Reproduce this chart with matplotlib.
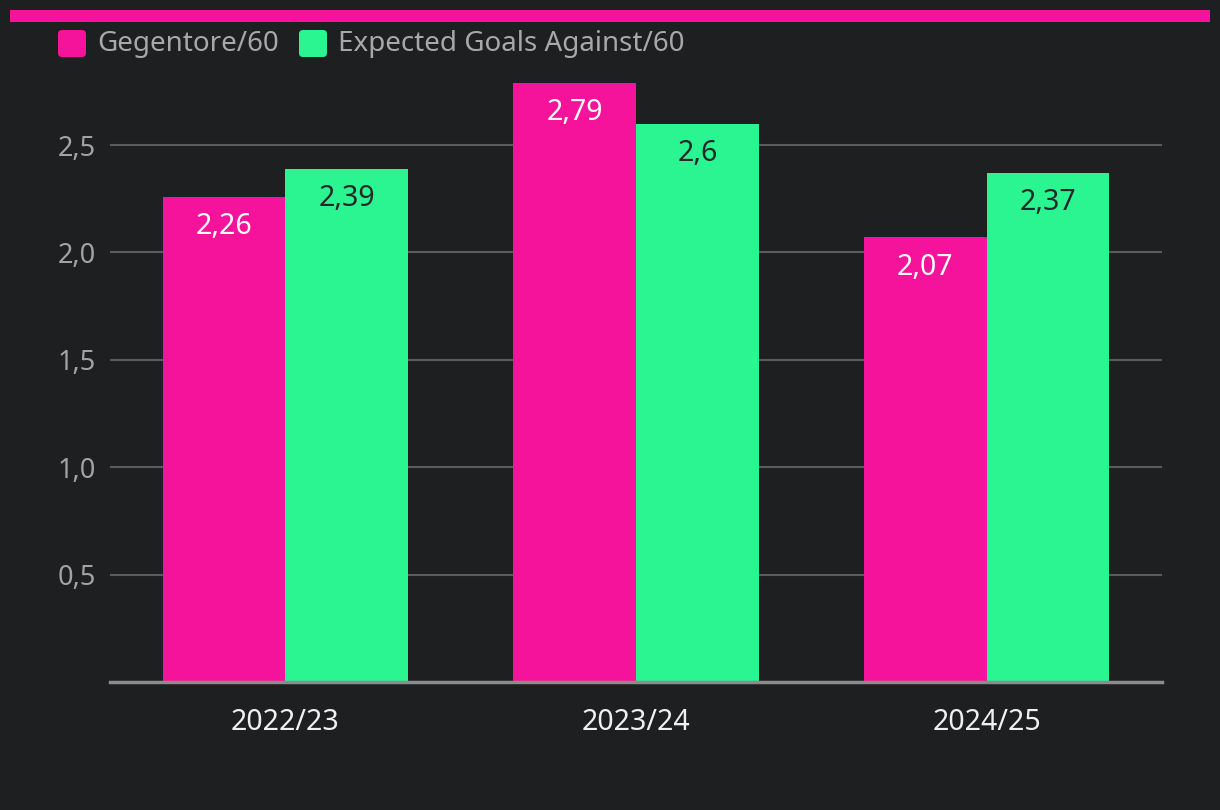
import matplotlib
matplotlib.use("Agg")
import matplotlib.pyplot as plt
from matplotlib.patches import FancyBboxPatch, Rectangle
import numpy as np

plt.rcParams['font.family'] = ['Noto Sans', 'DejaVu Sans']

seasons = ["2022/23", "2023/24", "2024/25"]
gegentore = [2.26, 2.79, 2.07]
xga = [2.39, 2.6, 2.37]
series_names = ["Gegentore/60", "Expected Goals Against/60"]
yticks = [0.5, 1.0, 1.5, 2.0, 2.5]

BG = "#1e1f21"
PINK = "#f5139b"
GREEN = "#2af590"

W, H = 1220, 810
fig = plt.figure(figsize=(W / 100, H / 100), dpi=100, facecolor=BG)

# axes in pixel coordinates
left, right, bottom = 110, 1162, 682
unit = (682 - 145) / 2.5
ymax = 2.8
top = bottom - ymax * unit
ax = fig.add_axes([left / W, 1 - bottom / H, (right - left) / W, (bottom - top) / H])
ax.set_facecolor(BG)

x = np.arange(len(seasons))
bw = 0.35
b1 = ax.bar(x - bw / 2, gegentore, width=bw, color=PINK, zorder=3, clip_on=False)
b2 = ax.bar(x + bw / 2, xga, width=bw, color=GREEN, zorder=3, clip_on=False)

def fmt(v):
    return f"{v:g}".replace(".", ",")

for rect, v in zip(b1, gegentore):
    ax.annotate(fmt(v), (rect.get_x() + rect.get_width() / 2, v), xytext=(0, -30),
                textcoords="offset pixels", ha="center", va="center",
                color="white", fontsize=20.5, zorder=4)
for rect, v in zip(b2, xga):
    ax.annotate(fmt(v), (rect.get_x() + rect.get_width() / 2, v), xytext=(0, -30),
                textcoords="offset pixels", ha="center", va="center",
                color="#25282a", fontsize=20.5, zorder=4)

ax.set_xlim(-0.5, len(seasons) - 0.5)
ax.set_ylim(0, ymax)
ax.set_yticks(yticks)
ax.set_yticklabels([f"{t:.1f}".replace(".", ",") for t in yticks],
                   color="#a3a3a3", fontsize=19.5)
ax.set_xticks(x)
ax.set_xticklabels(seasons, color="#f0f0f0", fontsize=20.5)
ax.tick_params(axis="both", length=0)
ax.tick_params(axis="y", pad=10)
ax.tick_params(axis="x", pad=19)
ax.grid(axis="y", color="#5a5b5d", linewidth=1.5, zorder=0)
for s in ["top", "right", "left"]:
    ax.spines[s].set_visible(False)
ax.spines["bottom"].set_color("#8c8c8c")
ax.spines["bottom"].set_linewidth(2.5)
ax.spines["bottom"].set_zorder(5)

# top accent bar
fig.patches.append(Rectangle((10 / W, 1 - 21.5 / H), 1200 / W, 11.5 / H,
                             transform=fig.transFigure, color=PINK, lw=0))

# legend
def legend_item(x0, color, label):
    fig.patches.append(FancyBboxPatch((x0 / W, 1 - 57 / H), 28 / W, 27 / H,
                                      boxstyle=f"round,pad=0,rounding_size={4 / W}",
                                      transform=fig.transFigure, facecolor=color,
                                      edgecolor="none", mutation_aspect=W / H))
    fig.text((x0 + 39) / W, 1 - 44 / H, label, color="#a8a8a8", fontsize=20,
             ha="left", va="center")

legend_item(58, PINK, series_names[0])
legend_item(299, GREEN, series_names[1])

fig.savefig("out.png", dpi=100, facecolor=BG)
